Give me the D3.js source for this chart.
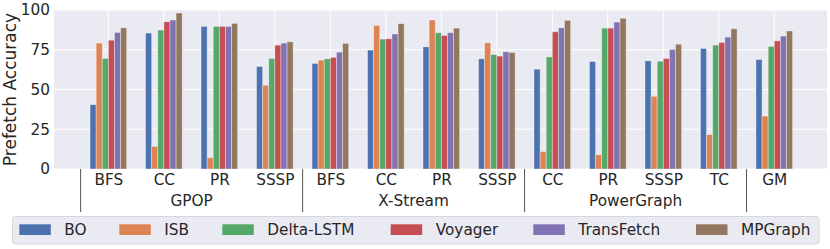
<!DOCTYPE html>
<html>
<head>
<meta charset="utf-8">
<script src="https://cdn.jsdelivr.net/npm/d3@7"></script>
<style>
  html, body { margin: 0; padding: 0; background: #fff; }
  svg { display: block; font-family: "DejaVu Sans", sans-serif; }
</style>
</head>
<body>
<svg id="chart" width="830" height="249"></svg>
<script>
const categories = ["BFS","CC","PR","SSSP","BFS","CC","PR","SSSP","CC","PR","SSSP","TC","GM"];
const groups = [
  {name: "GPOP", from: 0, to: 3},
  {name: "X-Stream", from: 4, to: 7},
  {name: "PowerGraph", from: 8, to: 11}
];
const seriesNames = ["BO","ISB","Delta-LSTM","Voyager","TransFetch","MPGraph"];
const BO        = [40.5, 85.5, 89.7, 64.5, 66.4, 74.8, 76.8, 69.3, 62.8, 67.6, 68.0, 75.8, 68.9];
const ISB       = [79.2, 14.2,  7.1, 52.7, 68.5, 90.3, 93.7, 79.4, 11.0,  9.0, 45.7, 21.6, 33.3];
const DeltaLSTM = [69.5, 87.4, 89.7, 69.5, 69.3, 81.7, 85.7, 72.0, 70.5, 88.6, 67.8, 77.9, 77.1];
const Voyager   = [81.0, 92.6, 89.7, 77.9, 70.2, 81.9, 84.0, 71.0, 86.3, 88.6, 69.5, 79.6, 80.6];
const TransFetch= [85.9, 93.7, 89.7, 79.2, 73.5, 84.9, 85.7, 73.7, 88.8, 92.4, 75.2, 83.0, 83.6];
const MPGraph   = [88.8, 98.1, 91.6, 80.0, 79.0, 91.4, 88.6, 73.3, 93.5, 94.8, 78.5, 88.2, 86.8];
const seriesValues = [BO, ISB, DeltaLSTM, Voyager, TransFetch, MPGraph];
const yTicks = [0, 25, 50, 75, 100];
const colors = ["#4c72b0","#dd8452","#55a868","#c44e52","#8172b3","#937860"];

const svg = d3.select("#chart");
const plotL = 54, plotR = 827, plotT = 10, plotB = 169;
const x = d3.scaleLinear().domain([-0.98, 12.95]).range([plotL, plotR]);
const y = d3.scaleLinear().domain([0, 100]).range([plotB, plotT]);
const barW = 0.11;
const textColor = "#262626";
const fs = 15.3;

// plot background
svg.append("rect").attr("x", plotL).attr("y", plotT)
  .attr("width", plotR - plotL).attr("height", plotB - plotT).attr("fill", "#eaeaf2");

// gridlines
svg.append("g").selectAll("line").data(yTicks).join("line")
  .attr("x1", plotL).attr("x2", plotR)
  .attr("y1", d => y(d)).attr("y2", d => y(d))
  .attr("stroke", "#fff").attr("stroke-width", 1);
svg.append("g").selectAll("line").data(categories.map((c, i) => i)).join("line")
  .attr("x1", d => x(d)).attr("x2", d => x(d))
  .attr("y1", plotT).attr("y2", plotB)
  .attr("stroke", "#fff").attr("stroke-width", 1);

// bars
const barsG = svg.append("g");
seriesValues.forEach((vals, s) => {
  barsG.append("g").selectAll("rect").data(vals).join("rect")
    .attr("x", (d, i) => x(i + (s - 3) * barW))
    .attr("y", d => y(d))
    .attr("width", x(barW) - x(0))
    .attr("height", d => y(0) - y(d))
    .attr("fill", colors[s])
    .attr("stroke", "#ffffff").attr("stroke-opacity", 0.45).attr("stroke-width", 0.8);
});

// y axis
const yAxis = d3.axisLeft(y).tickValues(yTicks).tickSize(0).tickPadding(4);
const yg = svg.append("g").attr("transform", `translate(${plotL},0)`).call(yAxis);
yg.select(".domain").remove();
yg.selectAll("text").attr("font-size", fs).attr("fill", textColor)
  .attr("font-family", "DejaVu Sans");

svg.append("text")
  .attr("transform", `translate(15.5, ${(plotT + plotB) / 2}) rotate(-90)`)
  .attr("text-anchor", "middle").attr("font-size", 17).attr("fill", textColor)
  .text("Prefetch Accuracy");

// x axis labels
const xAxis = d3.axisBottom(x).tickValues(categories.map((c, i) => i))
  .tickFormat(i => categories[i]).tickSize(0).tickPadding(5);
const xg = svg.append("g").attr("transform", `translate(0,${plotB})`).call(xAxis);
xg.select(".domain").remove();
xg.selectAll("text").attr("font-size", fs).attr("fill", textColor)
  .attr("font-family", "DejaVu Sans");

// group labels
svg.append("g").selectAll("text").data(groups).join("text")
  .attr("x", d => (x(d.from) + x(d.to)) / 2)
  .attr("y", 206)
  .attr("text-anchor", "middle").attr("font-size", fs).attr("fill", textColor)
  .text(d => d.name);

// separators
const seps = [-0.5, 3.5, 7.5, 11.5];
svg.append("g").selectAll("line").data(seps).join("line")
  .attr("x1", d => x(d)).attr("x2", d => x(d))
  .attr("y1", plotB).attr("y2", 212)
  .attr("stroke", "#555").attr("stroke-width", 1);

// legend
svg.append("rect").attr("x", 12.5).attr("y", 216.5).attr("width", 806.5).attr("height", 27.5)
  .attr("rx", 3).attr("fill", "#eaeaf2").attr("stroke", "#d6d6de").attr("stroke-width", 1);
const legendX = [19.3, 119.3, 222.3, 390.7, 533.3, 696];
const lg = svg.append("g").selectAll("g").data(seriesNames).join("g")
  .attr("transform", (d, i) => `translate(${legendX[i]},0)`);
lg.append("rect").attr("x", 0).attr("y", 224.3).attr("width", 31.5).attr("height", 10.7)
  .attr("fill", (d, i) => colors[i]);
lg.append("text").attr("x", 45).attr("y", 229.5).attr("dy", "0.35em")
  .attr("font-size", fs).attr("fill", textColor).text(d => d);
</script>
</body>
</html>
